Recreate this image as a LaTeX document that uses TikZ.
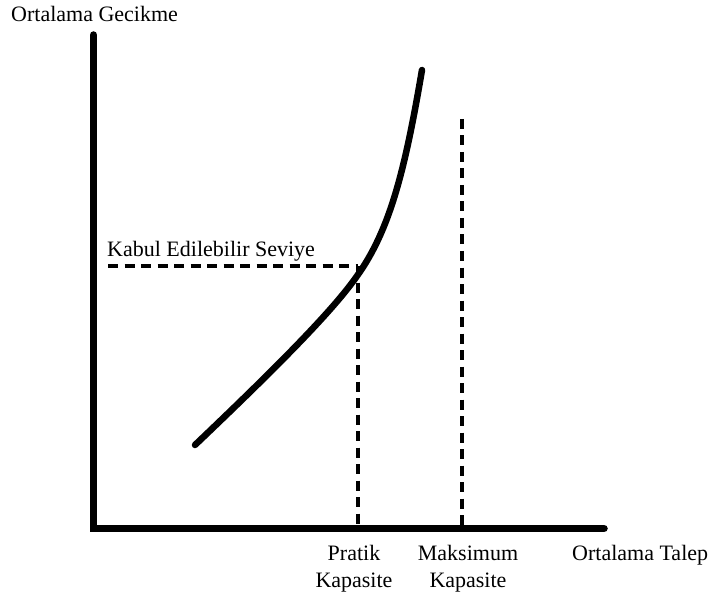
\documentclass[tikz,border=0pt]{standalone}
\usepackage{fontspec}
\setmainfont{Liberation Serif}
\begin{document}
\begin{tikzpicture}[x=1pt,y=-1pt,
  axisline/.style={line width=7.5pt,line cap=round},
  curveline/.style={line width=6.5pt,line cap=round},
  guide/.style={line width=3.2pt,dash pattern=on 10pt off 6.5pt},
  lbl/.style={inner sep=0pt,font=\fontsize{22}{27}\selectfont}]
\useasboundingbox (0,0) rectangle (713,599);
\coordinate (ytop) at (93.5,35);
\coordinate (origin) at (93.5,528.5);
\coordinate (xend) at (604,528.5);
\draw[axisline] (ytop) -- (origin) -- (xend);
\coordinate (accept) at (358,266);
\coordinate (hstart) at (108,266);
\coordinate (pbase) at (358,528.5);
\coordinate (mtop) at (462,119);
\coordinate (mbase) at (462,528.5);
\draw[guide] (hstart) -- (accept);
\draw[guide] (accept) -- (pbase);
\draw[guide] (mtop) -- (mbase);
\coordinate (cstart) at (195,445);
\coordinate (cmid) at (357,276);
\coordinate (cend) at (422,70);
\draw[curveline] (cstart) .. controls (260,383) and (330,315) .. (cmid)
  .. controls (390,230) and (405,170) .. (cend);
\node[lbl,anchor=base west] (ylab) at (11,22) {Ortalama Gecikme};
\node[lbl,anchor=base west] (kabul) at (107,257) {Kabul Edilebilir Seviye};
\node[lbl,anchor=base,align=center] (pratik) at (354,587) {Pratik\\Kapasite};
\node[lbl,anchor=base,align=center] (maks) at (468,587) {Maksimum\\Kapasite};
\node[lbl,anchor=base west] (xlab) at (572,560) {Ortalama Talep};
\end{tikzpicture}
\end{document}
